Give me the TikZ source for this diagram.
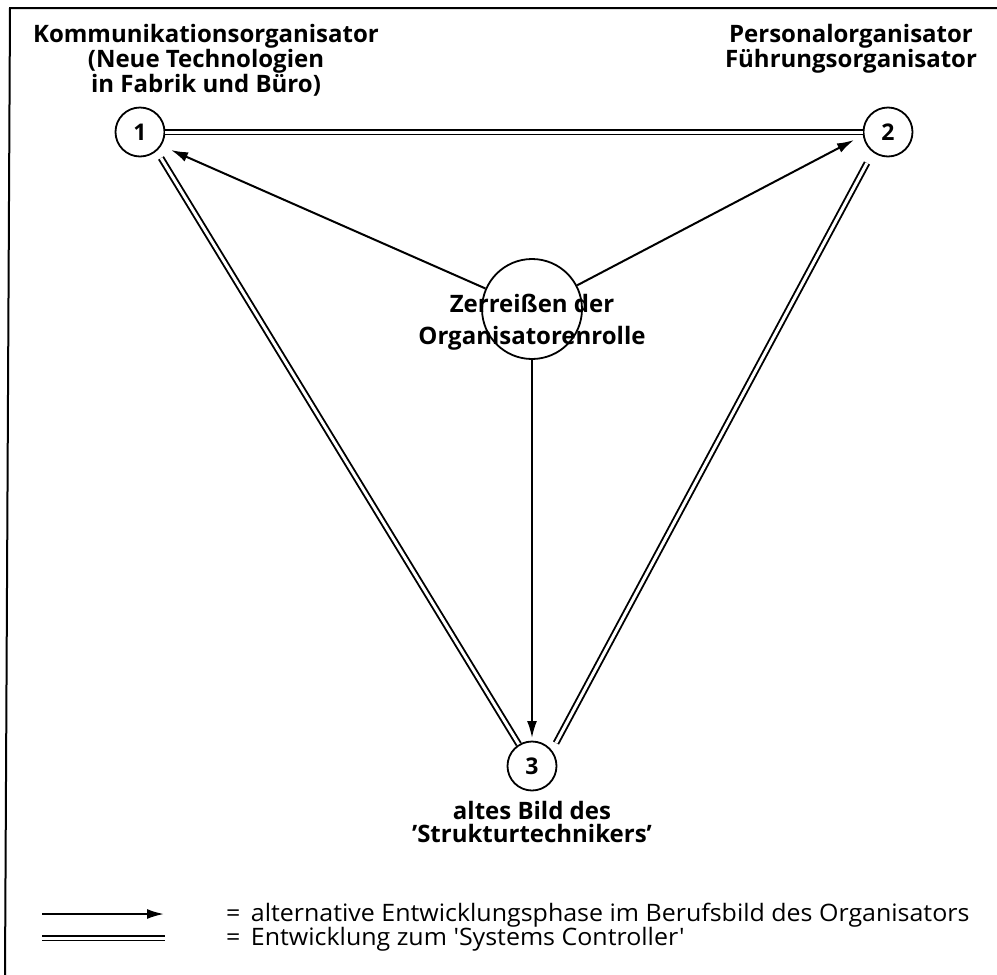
\documentclass[tikz,border=0pt]{standalone}
\usepackage{fontspec}
\setmainfont{Open Sans}
\newfontfamily\legfont[FakeStretch=1.04]{Open Sans}
\usetikzlibrary{arrows.meta}
\begin{document}
\begin{tikzpicture}[x=1pt,y=-1pt,
  num/.style={circle,draw,line width=1.8pt,minimum size=49pt,inner sep=0pt,font=\fontsize{23}{23}\selectfont\bfseries},
  big/.style={circle,draw,line width=1.8pt,minimum size=100pt,inner sep=0pt},
  lbl/.style={align=center,inner sep=0pt,font=\fontsize{24}{23}\selectfont\bfseries},
  lblc/.style={align=center,inner sep=0pt,font=\fontsize{24}{32}\selectfont\bfseries},
  leg/.style={anchor=base west,inner sep=0pt,font=\legfont\fontsize{24}{24}\selectfont},
  dbl/.style={double=white,double distance=3pt,line width=1.9pt},
  arr/.style={line width=2pt,-{Latex[length=17pt,width=10pt]}},
  frame/.style={line width=2pt}]
\useasboundingbox (0,0) rectangle (997,975);
% frame
\coordinate (f0) at (997,8);
\coordinate (f1) at (10,8);
\coordinate (f2) at (5,975);
\draw[frame] (f0) -- (f1) -- (f2);
% nodes
\node[num] (n1) at (140,132) {1};
\node[num] (n2) at (888,132) {2};
\node[num] (n3) at (532,766) {3};
\node[big] (nc) at (532,309) {};
\node[lbl,anchor=north] (l1) at (206,24) {Kommunikationsorganisator\\(Neue Technologien\\in Fabrik und Büro)};
\node[lbl,anchor=north] (l2) at (851,24) {Personalorganisator\\Führungsorganisator};
\node[lbl,anchor=north] (l3) at (532,801) {altes Bild des\\'Strukturtechnikers'};
\node[lblc,anchor=north] (lc) at (532,294) {Zerreißen der\\Organisatorenrolle};
% double lines
\coordinate (a1) at (161,158);
\coordinate (b2) at (867,163);
\coordinate (b3) at (556,743);
\draw[dbl] (n1) -- (n2);
\draw[dbl] (a1) -- (n3);
\draw[dbl] (b2) -- (b3);
% arrows
\coordinate (t1) at (171,150);
\coordinate (t2) at (854,140);
\coordinate (t3) at (532,738);
\draw[arr] (nc) -- (t1);
\draw[arr] (nc) -- (t2);
\draw[arr] (nc) -- (t3);
% legend
\coordinate (la0) at (42,914);
\coordinate (la1) at (164,914);
\coordinate (lb0) at (42,938);
\coordinate (lb1) at (165,938);
\draw[arr] (la0) -- (la1);
\draw[dbl] (lb0) -- (lb1);
\node[leg] (t1l) at (226,921) {=\, alternative Entwicklungsphase im Berufsbild des Organisators};
\node[leg] (t2l) at (226,945) {=\, Entwicklung zum 'Systems Controller'};
\end{tikzpicture}
\end{document}
